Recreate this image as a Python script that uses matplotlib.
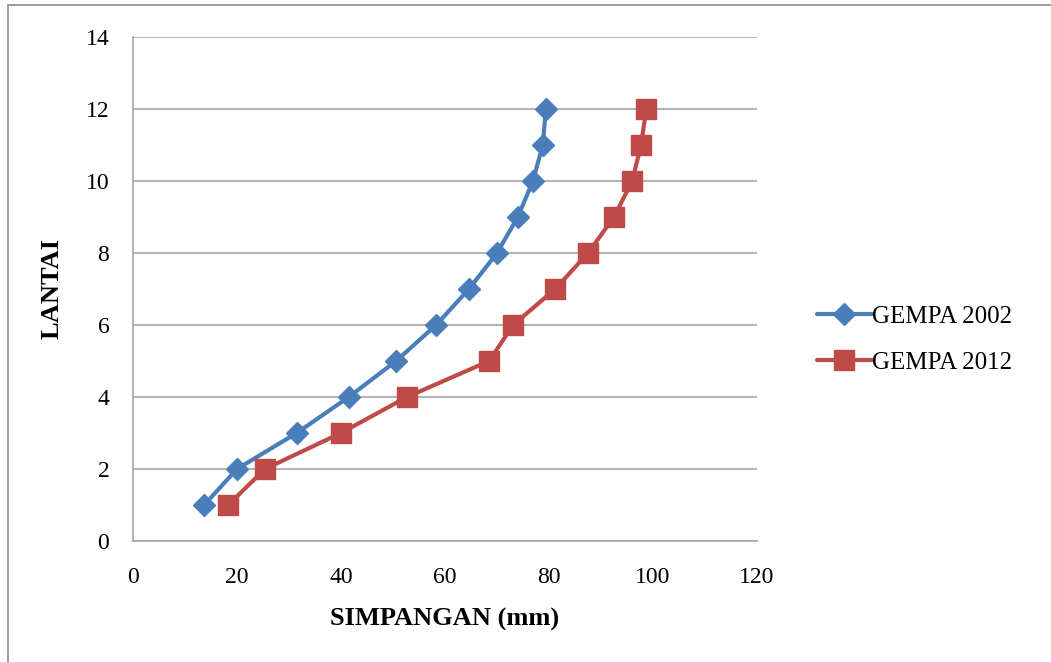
import matplotlib
matplotlib.use("Agg")
import matplotlib.pyplot as plt
from matplotlib.patches import Rectangle

# ----------------------------------------------- DATA -------------------------------------------------#
lantai = [1, 2, 3, 4, 5, 6, 7, 8, 9, 10, 11, 12]
gempa_2002 = [13.7, 20.0, 31.5, 41.5, 50.6, 58.3, 64.6, 70.0, 74.0, 76.9, 78.8, 79.4]
gempa_2012 = [18.3, 25.4, 40.0, 52.7, 68.5, 73.1, 81.2, 87.5, 92.5, 96.0, 97.7, 98.7]
series_labels = ["GEMPA 2002", "GEMPA 2012"]

BLUE = "#4A7EBB"
RED = "#BE4B48"
GRID = "#A6A6A6"

plt.rcParams['font.family'] = ['Liberation Serif', 'DejaVu Serif']

fig = plt.figure(figsize=(10.51, 6.62), dpi=100)
ax = fig.add_axes([0.1265, 0.1828, 0.5938, 0.7613])

ax.plot(gempa_2002, lantai, color=BLUE, lw=3, marker='D', ms=11,
        markeredgecolor=BLUE, label=series_labels[0], solid_capstyle='round')
ax.plot(gempa_2012, lantai, color=RED, lw=3, marker='s', ms=14,
        markeredgecolor=RED, label=series_labels[1], solid_capstyle='round')

ax.set_xlim(0, 120)
ax.set_ylim(0, 14)
ax.set_xticks(range(0, 121, 20))
ax.set_yticks(range(0, 15, 2))
ax.grid(axis='y', color=GRID, lw=1.2)
ax.set_axisbelow(True)
for s in ['top', 'right']:
    ax.spines[s].set_visible(False)
for s in ['left', 'bottom']:
    ax.spines[s].set_color(GRID)
    ax.spines[s].set_linewidth(1.2)
ax.tick_params(length=0, labelsize=17)
ax.tick_params(axis='x', pad=19)
ax.tick_params(axis='y', pad=17)

ax.set_xlabel("SIMPANGAN (mm)", fontsize=19, fontweight='bold', labelpad=14)
ax.set_ylabel("LANTAI", fontsize=19, fontweight='bold', labelpad=16)

ax.legend(loc='center left', bbox_to_anchor=(1.06, 0.40), frameon=False,
          fontsize=18, handlelength=2.2, handletextpad=0.0, labelspacing=0.95)

# outer chart frame
fig.patches.append(Rectangle((0.008, -0.01), 1.0, 1.002, transform=fig.transFigure,
                             fill=False, edgecolor="#8C8C8C", lw=1.2))

fig.savefig("out.png", dpi=100)
